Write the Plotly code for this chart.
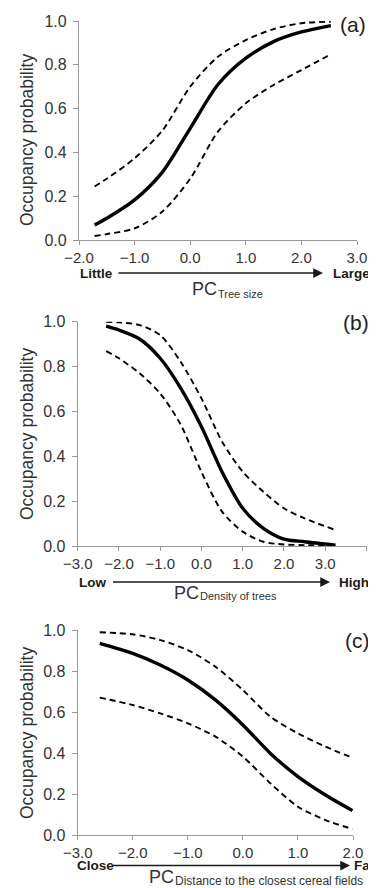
import plotly.graph_objects as go

# ---------------- data ----------------
a_x = [-1.72, -1.5, -1.0, -0.5, 0.0, 0.5, 1.0, 1.5, 2.0, 2.53]
a_fit = [0.068, 0.099, 0.183, 0.31, 0.51, 0.71, 0.83, 0.906, 0.95, 0.979]
a_upper = [0.244, 0.28, 0.373, 0.50, 0.70, 0.837, 0.913, 0.963, 0.99, 0.997]
a_lower = [0.018, 0.027, 0.053, 0.13, 0.28, 0.495, 0.624, 0.708, 0.776, 0.848]

b_x = [-2.31, -2.0, -1.5, -1.0, -0.5, 0.0, 0.5, 1.0, 1.5, 2.0, 2.5, 3.25]
b_fit = [0.98, 0.963, 0.923, 0.837, 0.703, 0.532, 0.33, 0.168, 0.079, 0.031, 0.019, 0.004]
b_upper = [1.0, 0.997, 0.985, 0.94, 0.82, 0.658, 0.465, 0.331, 0.242, 0.168, 0.123, 0.071]
b_lower = [0.869, 0.837, 0.77, 0.68, 0.54, 0.33, 0.153, 0.064, 0.019, 0.007, 0.004, 0.0015]

c_x = [-2.6, -2.0, -1.5, -1.0, -0.5, 0.0, 0.5, 1.0, 1.5, 1.99]
c_fit = [0.935, 0.886, 0.829, 0.756, 0.659, 0.537, 0.398, 0.285, 0.195, 0.119]
c_upper = [0.989, 0.979, 0.951, 0.902, 0.821, 0.707, 0.577, 0.496, 0.431, 0.377]
c_lower = [0.67, 0.634, 0.593, 0.545, 0.48, 0.382, 0.252, 0.138, 0.073, 0.029]

panel_labels = ["(a)", "(b)", "(c)"]
x_ranges = [[-2.0, 3.0], [-3.0, 4.0], [-3.0, 2.0]]
x_ticks = [[-2.0, -1.0, 0.0, 1.0, 2.0, 3.0],
           [-3.0, -2.0, -1.0, 0.0, 1.0, 2.0, 3.0, 4.0],
           [-3.0, -2.0, -1.0, 0.0, 1.0, 2.0]]
y_ticks = [0.0, 0.2, 0.4, 0.6, 0.8, 1.0]
left_words = ["Little", "Low", "Close"]
right_words = ["Large", "High", "Far"]
pc_subs = ["Tree size", "Density of trees", "Distance to the closest cereal fields"]
y_title = "Occupancy probability"

# ---------------- layout geometry (window pixels) ----------------
OFF = 8  # default page margin around the plot div
W, H = 376 - OFF, 888 - OFF
def X(px): return (px - OFF) / W
def Y(py): return 1 - (py - OFF) / H

# plot boxes: (left, right, top, bottom) in window px
boxes = [(79, 357, 21, 240), (77.7, 366.5, 321.7, 546), (77.7, 353, 630, 835)]

FONT = "Liberation Sans, Arial, sans-serif"
TXT = "#333333"
AXC = "#9a9a9a"

fig = go.Figure()
series = [(a_x, a_fit, a_upper, a_lower), (b_x, b_fit, b_upper, b_lower),
          (c_x, c_fit, c_upper, c_lower)]

for i, (xs, fit, up, lo) in enumerate(series):
    sfx = "" if i == 0 else str(i + 1)
    for ys, dash, w in [(up, "6px,4px", 1.9), (lo, "6px,4px", 1.9), (fit, "solid", 3.4)]:
        fig.add_trace(go.Scatter(
            x=xs, y=ys, mode="lines", xaxis="x" + sfx, yaxis="y" + sfx,
            line=dict(color="black", width=w, dash=dash, shape="spline", smoothing=0.8),
            showlegend=False, hoverinfo="skip", cliponaxis=False))

annotations = []
layout_axes = {}
# per-panel text positions (window px)
arrow_y = [273, 582, 865.5]
left_word_x = [78, 77, 75]
arrow_start = [117, 111.5, 111.5]
arrow_end = [323, 330, 350]
right_word_x = [331, 337, 352]
pc_x = [190, 172, 147]
pc_y = [289, 593, 877]
sub_y = [294, 596, 881]
sub_size = [11, 11, 12]
title_y = [140, 434, 733]
label_pos = [(353, 24), (356, 322), (357, 640)]

for i in range(3):
    l, r, t, b = boxes[i]
    xk = "xaxis" if i == 0 else "xaxis%d" % (i + 1)
    yk = "yaxis" if i == 0 else "yaxis%d" % (i + 1)
    ya = "y" if i == 0 else "y%d" % (i + 1)
    xa = "x" if i == 0 else "x%d" % (i + 1)
    layout_axes[xk] = dict(
        domain=[X(l), X(r)], range=x_ranges[i], anchor=ya, automargin=False,
        tickvals=x_ticks[i], tickformat=".1f",
        showgrid=False, zeroline=False, showline=True, linecolor=AXC, linewidth=1.2,
        ticks="outside", ticklen=4, tickcolor=AXC, tickwidth=1.2,
        ticklabelstandoff=0,
        tickfont=dict(family=FONT, size=15, color=TXT))
    layout_axes[yk] = dict(
        domain=[Y(b), Y(t)], range=[0, 1.0], anchor=xa, automargin=False,
        tickvals=y_ticks, tickformat=".1f",
        showgrid=False, zeroline=False, showline=True, linecolor=AXC, linewidth=1.2,
        ticks="outside", ticklen=5, tickcolor=AXC, tickwidth=1.2,
        ticklabelstandoff=3,
        tickfont=dict(family=FONT, size=16, color=TXT))

    # y title
    annotations.append(dict(text=y_title, xref="paper", yref="paper",
                            x=X(27), y=Y(title_y[i]), xanchor="center", yanchor="middle",
                            textangle=-90, showarrow=False,
                            font=dict(family=FONT, size=17.5, color=TXT)))
    # panel label
    annotations.append(dict(text=panel_labels[i], xref="paper", yref="paper",
                            x=X(label_pos[i][0]), y=Y(label_pos[i][1]),
                            xanchor="center", yanchor="middle", showarrow=False,
                            font=dict(family=FONT, size=21, color="#222222")))
    # left / right words
    annotations.append(dict(text="<b>%s</b>" % left_words[i], xref="paper", yref="paper",
                            x=X(left_word_x[i]), y=Y(arrow_y[i]), xanchor="left",
                            yanchor="middle", showarrow=False,
                            font=dict(family=FONT, size=13.5, color="#1a1a1a")))
    annotations.append(dict(text="<b>%s</b>" % right_words[i], xref="paper", yref="paper",
                            x=X(right_word_x[i]), y=Y(arrow_y[i]), xanchor="left",
                            yanchor="middle", showarrow=False,
                            font=dict(family=FONT, size=13.5, color="#1a1a1a")))
    # arrow (tail offset in pixels)
    annotations.append(dict(text="", xref="paper", yref="paper", axref="pixel", ayref="pixel",
                            x=X(arrow_end[i]), y=Y(arrow_y[i]),
                            ax=-(arrow_end[i] - arrow_start[i]), ay=0,
                            showarrow=True, arrowhead=2, arrowsize=1.3, arrowwidth=1.5,
                            arrowcolor="#1a1a1a", standoff=0, startstandoff=0))
    # PC + subscript
    annotations.append(dict(text="PC", xref="paper", yref="paper",
                            x=X(pc_x[i]), y=Y(pc_y[i]), xanchor="left", yanchor="middle",
                            showarrow=False, font=dict(family=FONT, size=18, color=TXT)))
    annotations.append(dict(text=pc_subs[i], xref="paper", yref="paper",
                            x=X(pc_x[i] + 26), y=Y(sub_y[i]), xanchor="left", yanchor="middle",
                            showarrow=False, font=dict(family=FONT, size=sub_size[i], color=TXT)))

fig.update_layout(
    width=W, height=H, autosize=False,
    margin=dict(l=0, r=0, t=0, b=0, pad=0, autoexpand=False),
    paper_bgcolor="white", plot_bgcolor="white",
    annotations=annotations,
    **layout_axes)

fig.write_html("out.html")
